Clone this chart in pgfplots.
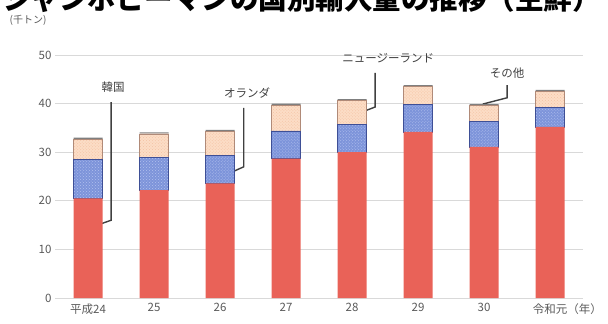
\documentclass[border=0pt]{standalone}
\usepackage{fontspec}
\setmainfont{Noto Sans CJK JP}
\usepackage{pgfplots}
\usepackage{pgfplotstable}
\pgfplotsset{compat=1.18}
\usetikzlibrary{patterns}

\definecolor{korea}{HTML}{E96258}
\definecolor{nl}{HTML}{7D94DA}
\definecolor{nldot}{HTML}{B2C0EE}
\definecolor{nledge}{HTML}{3E4F96}
\definecolor{nz}{HTML}{FCDDC6}
\definecolor{nzdot}{HTML}{F3C2A3}
\definecolor{nzedge}{HTML}{B08A78}
\definecolor{other}{HTML}{7F7F7F}
\definecolor{gridgray}{HTML}{D9D9D9}
\definecolor{labelgray}{HTML}{595959}
\definecolor{callout}{HTML}{404040}

% Import volume (thousand tonnes) by country of origin
\pgfplotstableread{
x korea nl nz other
0 20.5 8.0 4.2 0.3
1 22.2 6.8 4.8 0.3
2 23.6 5.8 4.9 0.3
3 28.7 5.7 5.3 0.3
4 30.0 5.7 4.9 0.3
5 34.2 5.7 3.6 0.3
6 31.1 5.3 3.2 0.3
7 35.2 4.0 3.3 0.3
}\imports

\begin{document}
\begin{tikzpicture}[x=1bp,y=1bp,
  callout/.style={draw=callout, line width=1.4bp},
  lab/.style={font=\fontsize{11.5bp}{13bp}\selectfont, text=callout}]
\path[use as bounding box] (0,0) rectangle (608,323);

% title, partly cut at the top edge
\begin{scope}
  \clip (0,0) rectangle (608,323);
  \node[anchor=base, font=\bfseries\fontsize{28.5bp}{30bp}\selectfont] at (302,314)
    {ジャンボピーマンの国別輸入量の推移（生鮮）};
\end{scope}

\node[font=\fontsize{10bp}{12bp}\selectfont, text=labelgray] at (28,303) {(千トン)};

\begin{axis}[
  at={(55bp,25bp)}, anchor=south west,
  scale only axis, width=528bp, height=243bp,
  xmin=-0.5, xmax=7.5, ymin=0, ymax=50,
  ybar stacked, bar width=29bp,
  xtick={0,...,7},
  xticklabels={平成24,25,26,27,28,29,30,令和元\rlap{（年）}},
  xticklabel style={yshift=-2bp},
  ytick={0,10,...,50},
  ymajorgrids, grid style={draw=gridgray, line width=0.8bp},
  axis line style={draw=none}, major tick length=0pt,
  tick label style={font=\fontsize{11.5bp}{13bp}\selectfont, text=labelgray},
  /pgf/number format/assume math mode=true,
  clip=false,
]
\addplot[fill=korea, draw=none] table[x=x, y=korea] {\imports};
\addplot[fill=nl, draw=nledge, line width=0.5bp,
  postaction={pattern=crosshatch dots, pattern color=nldot}] table[x=x, y=nl] {\imports};
\addplot[fill=nz, draw=nzedge, line width=0.4bp,
  postaction={pattern=crosshatch dots, pattern color=nzdot}] table[x=x, y=nz] {\imports};
\addplot[fill=other, draw=none] table[x=x, y=other] {\imports};

\draw[callout] (axis cs:0.10,14.8) -- (axis cs:0.35,16.0) -- (axis cs:0.35,40.3);
\node[lab] at (axis cs:0.38,43.4) {韓国};
\draw[callout] (axis cs:2.18,25.9) -- (axis cs:2.36,27.0) -- (axis cs:2.36,39.1);
\node[lab] at (axis cs:2.41,42.2) {オランダ};
\draw[callout] (axis cs:4.12,38.1) -- (axis cs:4.35,39.3) -- (axis cs:4.35,46.3);
\node[lab] at (axis cs:4.55,49.4) {ニュージーランド};
\draw[callout] (axis cs:5.98,39.9) -- (axis cs:6.35,41.2) -- (axis cs:6.35,43.8);
\node[lab] at (axis cs:6.35,46.3) {その他};
\end{axis}
\end{tikzpicture}
\end{document}
